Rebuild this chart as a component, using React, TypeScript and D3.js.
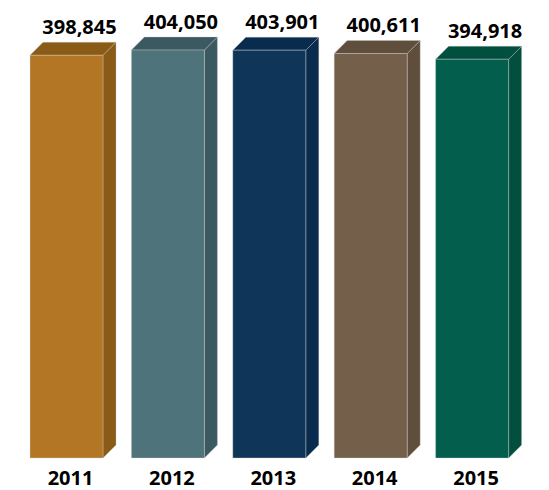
import React from 'react';
import * as d3 from 'd3';

const years = ['2011', '2012', '2013', '2014', '2015'];
const values = [398845, 404050, 403901, 400611, 394918];
const frontColors = ['#B27624', '#4F737B', '#0F3659', '#74604A', '#045E4D'];
const sideColors = ['#8A5A17', '#3B5961', '#082B4E', '#5F4E3C', '#024E3F'];

const width = 549;
const height = 490;
const depth = 13;
const baseY = 458;

const App: React.FC = () => {
  const x = d3.scaleBand<string>()
    .domain(years)
    .range([30, 508.6])
    .paddingInner(0.28)
    .paddingOuter(0);

  const y = d3.scaleLinear()
    .domain([0, 404050])
    .range([baseY, 50]);

  const fmt = d3.format(',');
  const font = '"Open Sans", "DejaVu Sans", sans-serif';

  return (
    <svg width={width} height={height} style={{ position: 'absolute', left: 0, top: 0 }}>
      {years.map((yr, i) => {
        const x0 = x(yr) as number;
        const w = x.bandwidth();
        const top = y(values[i]);
        const front = `M${x0},${top}H${x0 + w}V${baseY}H${x0}Z`;
        const side = `M${x0 + w},${top}L${x0 + w + depth},${top - depth}V${baseY - depth}L${x0 + w},${baseY}Z`;
        const lid = `M${x0},${top}L${x0 + depth},${top - depth}H${x0 + w + depth}L${x0 + w},${top}Z`;
        return (
          <g key={yr}>
            <path d={side} fill={sideColors[i]} stroke="#c8c8c8" strokeWidth={0.6} strokeOpacity={0.6} />
            <path d={lid} fill={sideColors[i]} stroke="#c8c8c8" strokeWidth={0.6} strokeOpacity={0.6} />
            <path d={front} fill={frontColors[i]} stroke="#d8d8d8" strokeWidth={0.6} strokeOpacity={0.6} />
            <text
              x={x0 + w / 2 + depth}
              y={top - depth - 8}
              textAnchor="middle"
              fontFamily={font}
              fontWeight="bold"
              fontSize={20}
              fill="#000"
            >
              {fmt(values[i])}
            </text>
            <text
              x={x0 + w / 2 + 4}
              y={485}
              textAnchor="middle"
              fontFamily={font}
              fontWeight="bold"
              fontSize={20}
              fill="#000"
            >
              {yr}
            </text>
          </g>
        );
      })}
    </svg>
  );
};

export default App;
